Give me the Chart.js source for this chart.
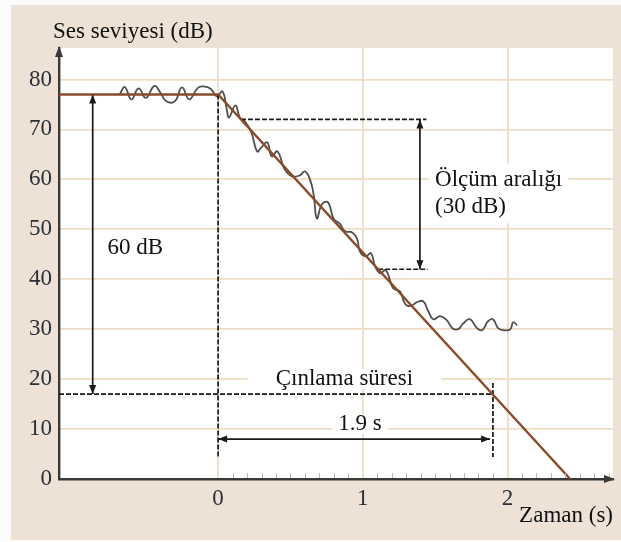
<!DOCTYPE html>
<html><head><meta charset="utf-8">
<script src="https://cdn.jsdelivr.net/npm/chart.js@4.4.0/dist/chart.umd.min.js"></script>
<style>html,body{margin:0;padding:0;background:#fff;overflow:hidden}#wrap{width:621px;height:542px;position:relative}</style>
</head><body><div id="wrap"><canvas id="c" width="621" height="542"></canvas></div>
<script>
// ---- data ----
const xTicks = [0, 1, 2];
const yTicks = [0, 10, 20, 30, 40, 50, 60, 70, 80];
const xTitle = 'Zaman (s)';
const yTitle = 'Ses seviyesi (dB)';

// measured (wavy) sound level
const measuredT = [-0.68,-0.645,-0.60,-0.55,-0.50,-0.44,-0.40,-0.36,-0.30,-0.25,-0.20,-0.14,-0.10,-0.05,-0.01,
  0.03,0.06,0.075,0.12,0.15,0.185,0.23,0.27,0.30,0.34,0.37,0.41,0.46,0.51,0.565,0.60,0.635,0.66,
  0.683,0.718,0.76,0.80,0.84,0.877,0.925,0.96,0.98,1.02,1.057,1.085,1.12,1.16,
  1.21,1.257,1.29,1.325,1.375,1.417,1.45,1.487,1.535,1.58,1.62,1.66,1.69,1.74,1.79,1.825,1.867,1.90,1.936,1.97,2.02,2.04,2.067];
const measuredDb = [77.0,78.5,76.0,78.2,76.3,78.7,77.4,75.7,75.6,78.4,76.0,78.3,78.6,78.1,76.6,
  77.6,74.0,72.4,74.8,72.4,71.6,69.4,65.6,66.4,67.4,64.6,65.6,62.0,60.6,60.8,61.6,60.0,57.0,
  52.2,55.0,55.4,52.0,51.2,49.6,49.4,48.2,45.6,44.6,45.2,42.6,41.2,41.8,
  38.2,37.6,35.2,34.6,35.4,35.6,33.8,32.0,32.6,31.8,30.2,30.0,31.0,32.0,30.2,29.8,31.6,32.0,30.2,29.8,30.0,31.4,30.8];

// fitted decay line
const fitT = [-1.1, 0, 2.434];
const fitDb = [77, 77, 0];

// dashed guide lines [x0,x1],[y0,y1]
const guideT = [[0, 0], [-1.1, 1.9], [1.9, 1.9], [0.158, 1.44], [1.107, 1.45]];
const guideDb = [[77, 4.4], [17, 17], [19.2, 4.4], [72, 72], [42, 42]];

// double-headed arrows
const arrowT = [[-0.867, -0.867], [1.395, 1.395], [0, 1.88]];
const arrowDb = [[77, 17], [72, 42], [8, 8]];

// annotation texts
const noteText = ['60 dB', 'Ölçüm aralığı', '(30 dB)', 'Çınlama süresi', '1.9 s'];
const noteT = [-0.765, 1.50, 1.50, 0.873, 0.98];
const noteDb = [46.2, 59.8, 54.4, 20.0, 11.0];

// ---- styles ----
const FONT = "'Liberation Serif', 'Times New Roman', serif";
const FS = 23;
const GRID = '#eedcc6';
const PANEL = '#ede2d5';
const AXIS = '#383838';
const TICKC = '#2a2f38';
const noteAlign = ['left', 'left', 'left', 'center', 'center'];
const noteBox = [null, [6, 5], [6, 5], [28, -1], [6, -1]];

const pts = (xs, ys) => xs.map((x, i) => ({x, y: ys[i]}));

const datasets = [];
datasets.push({data: pts(measuredT, measuredDb), borderColor: '#505050', borderWidth: 1.8, tension: 0.45, pointRadius: 0, order: 5, fill: false});
datasets.push({data: pts(fitT, fitDb), borderColor: '#8a4b2a', borderWidth: 2.4, tension: 0, pointRadius: 0, order: 1, fill: false});
guideT.forEach((g, i) => datasets.push({data: pts(g, guideDb[i]), borderColor: '#1a1a1a', borderWidth: 1.7, borderDash: [5, 2], pointRadius: 0, order: 3, fill: false}));
arrowT.forEach((g, i) => datasets.push({data: pts(g, arrowDb[i]), borderColor: '#1a1a1a', borderWidth: 1.7, pointRadius: 0, order: 3, fill: false}));

function arrowHead(ctx, x, y, dx, dy, len, hw, color) {
  const n = Math.hypot(dx, dy); dx /= n; dy /= n;
  ctx.save(); ctx.fillStyle = color; ctx.beginPath();
  ctx.moveTo(x, y);
  ctx.lineTo(x - dx * len - dy * hw, y - dy * len + dx * hw);
  ctx.lineTo(x - dx * len + dy * hw, y - dy * len - dx * hw);
  ctx.closePath(); ctx.fill(); ctx.restore();
}

const deco = {
  id: 'deco',
  beforeDraw(chart) {
    const {ctx, chartArea: a} = chart;
    ctx.save();
    ctx.fillStyle = '#fbfbfb'; ctx.fillRect(0, 0, 621, 542);
    ctx.fillStyle = PANEL; ctx.fillRect(11, 5, 610, 535);
    ctx.fillStyle = '#ffffff'; ctx.fillRect(a.left, a.top, a.right - a.left, a.bottom - a.top);
    ctx.restore();
  },
  beforeDatasetsDraw(chart) {
    const {ctx, scales: {x, y}} = chart;
    ctx.save();
    ctx.font = FS + 'px ' + FONT;
    noteText.forEach((t, i) => {
      const b = noteBox[i]; if (!b) return;
      const px = x.getPixelForValue(noteT[i]), py = y.getPixelForValue(noteDb[i]);
      const w = ctx.measureText(t).width;
      const left = noteAlign[i] === 'center' ? px - w / 2 : px;
      ctx.fillStyle = '#ffffff';
      ctx.fillRect(left - b[0], py - 11 - b[1], w + 2 * b[0], 22 + 2 * b[1]);
    });
    ctx.restore();
  },
  afterDatasetsDraw(chart) {
    const {ctx, chartArea: a, scales: {x, y}} = chart;
    ctx.save();
    // minor ticks on time axis
    ctx.strokeStyle = '#b9b9b9'; ctx.lineWidth = 1;
    for (let v = 0.1; v < 2.75; v += 0.1) {
      if (Math.abs(v - Math.round(v)) < 0.01) continue;
      const px = Math.round(x.getPixelForValue(v)) + 0.5;
      ctx.beginPath(); ctx.moveTo(px, a.bottom - 1); ctx.lineTo(px, a.bottom - 6); ctx.stroke();
    }
    // axis arrows
    arrowHead(ctx, a.left, a.top - 2, 0, -1, 11, 4, AXIS);
    arrowHead(ctx, a.right + 2, a.bottom, 1, 0, 11, 4, AXIS);
    // annotation arrows
    arrowT.forEach((g, i) => {
      const x0 = x.getPixelForValue(g[0]), x1 = x.getPixelForValue(g[1]);
      const y0 = y.getPixelForValue(arrowDb[i][0]), y1 = y.getPixelForValue(arrowDb[i][1]);
      arrowHead(ctx, x1, y1, x1 - x0, y1 - y0, 9, 3.5, '#1a1a1a');
      arrowHead(ctx, x0, y0, x0 - x1, y0 - y1, 9, 3.5, '#1a1a1a');
    });
    // texts
    ctx.font = FS + 'px ' + FONT; ctx.fillStyle = '#111111'; ctx.textBaseline = 'middle';
    noteText.forEach((t, i) => {
      ctx.textAlign = noteAlign[i];
      ctx.fillText(t, x.getPixelForValue(noteT[i]), y.getPixelForValue(noteDb[i]));
    });
    ctx.textAlign = 'left';
    ctx.fillText(yTitle, 53, 32);
    ctx.restore();
  }
};

new Chart(document.getElementById('c'), {
  type: 'line',
  data: {datasets},
  plugins: [deco],
  options: {
    responsive: false, animation: false,
    layout: {padding: {left: 0, right: 8, top: 48, bottom: 0}},
    plugins: {legend: {display: false}, tooltip: {enabled: false}},
    scales: {
      x: {
        type: 'linear', min: -1.1, max: 2.73,
        afterBuildTicks: s => { s.ticks = xTicks.map(v => ({value: v})); },
        afterFit: s => { s.height = 63; },
        grid: {color: GRID, lineWidth: 1.8, drawTicks: false},
        border: {display: true, color: AXIS, width: 2.4},
        ticks: {font: {family: FONT, size: FS}, color: TICKC, padding: 6, maxRotation: 0, callback: v => String(v)},
        title: {display: true, text: xTitle, align: 'end', color: '#111111', font: {family: FONT, size: FS}, padding: {top: 12, bottom: 12}}
      },
      y: {
        type: 'linear', min: 0, max: 86.3,
        afterBuildTicks: s => { s.ticks = yTicks.map(v => ({value: v})); },
        afterFit: s => { s.width = 59; },
        grid: {color: c => (c.tick && c.tick.value === 0) ? 'rgba(0,0,0,0)' : GRID, lineWidth: 1.8, drawTicks: false},
        border: {display: true, color: AXIS, width: 2.4},
        ticks: {font: {family: FONT, size: FS}, color: TICKC, padding: 7, callback: v => String(v)}
      }
    }
  }
});
</script></body></html>
